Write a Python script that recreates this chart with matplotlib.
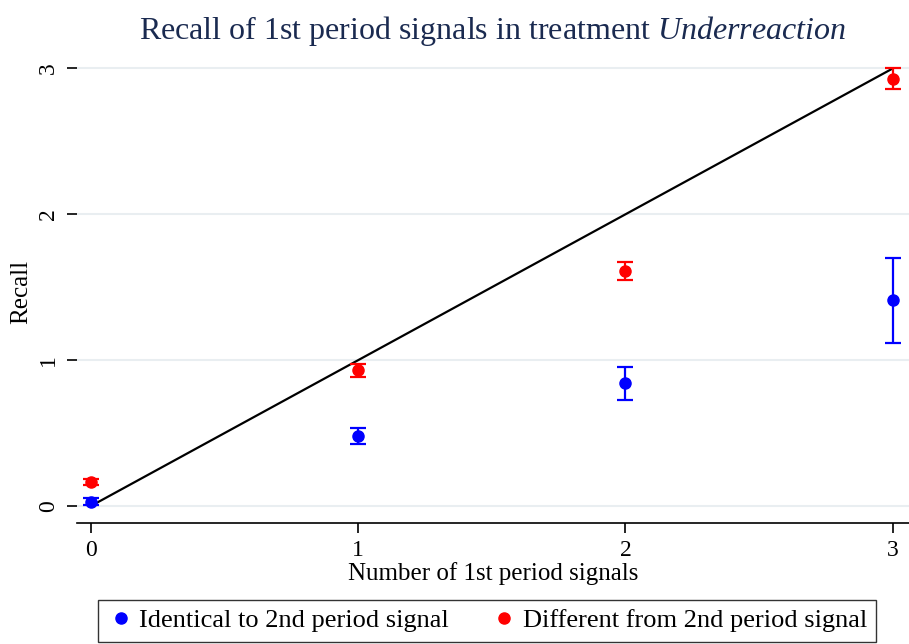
import matplotlib
matplotlib.use("Agg")
import matplotlib.pyplot as plt
import numpy as np

# signals
n_signals = [0, 1, 2, 3]

# recall for signals identical to 2nd period signal
identical_mean = [0.03, 0.48, 0.84, 1.41]
identical_err = [0.025, 0.055, 0.115, 0.29]

# recall for signals different from 2nd period signal
different_mean = [0.165, 0.93, 1.61, 2.93]
different_err = [0.02, 0.045, 0.06, 0.07]

plt.rcParams["font.family"] = ["Liberation Serif", "DejaVu Serif"]
plt.rcParams["mathtext.fontset"] = "custom"
plt.rcParams["mathtext.rm"] = "Liberation Serif"
plt.rcParams["mathtext.it"] = "Liberation Serif:italic"

fig = plt.figure(figsize=(9.09, 6.44), dpi=100)
ax = fig.add_axes([0.0847, 0.188, 0.9153, 0.717])

# grid
for yv in [0, 1, 2, 3]:
    ax.axhline(yv, color="#e9eef1", linewidth=1.5, zorder=0)

# 45 degree line
ax.plot([0, 3], [0, 3], color="black", linewidth=1.6, zorder=2)

ax.errorbar(n_signals, identical_mean, yerr=identical_err, fmt="o", color="blue",
            markersize=8, elinewidth=1.6, capsize=6, capthick=1.6, zorder=3,
            label="Identical to 2nd period signal")
ax.errorbar(n_signals, different_mean, yerr=different_err, fmt="o", color="red",
            markersize=8, elinewidth=1.6, capsize=6, capthick=1.6, zorder=3,
            label="Different from 2nd period signal")

ax.set_xlim(-0.052, 3.061)
ax.set_ylim(-0.116, 3.05)
ax.set_xticks([0, 1, 2, 3])
ax.set_yticks([0, 1, 2, 3])
ax.tick_params(axis="both", labelsize=17, length=7, width=1.2)
ax.tick_params(axis="y", pad=6)
ax.tick_params(axis="x", pad=5)
for lbl in ax.get_yticklabels():
    lbl.set_rotation(90)
    lbl.set_va("center")

for side in ["top", "right", "left"]:
    ax.spines[side].set_visible(False)
ax.spines["bottom"].set_linewidth(1.2)

ax.set_xlabel("Number of 1st period signals", fontsize=18, labelpad=1)
ax.set_ylabel("Recall", fontsize=18, labelpad=4)
ax.set_title("Recall of 1st period signals in treatment $\\mathit{Underreaction}$",
             fontsize=23, color="#1a2a50", pad=16)

handles = [
    plt.Line2D([], [], marker="o", linestyle="", color="blue", markersize=8),
    plt.Line2D([], [], marker="o", linestyle="", color="red", markersize=8),
]
leg = fig.legend(handles, ["Identical to 2nd period signal", "Different from 2nd period signal"],
                 loc="upper center", bbox_to_anchor=(0.536, 0.069), ncol=2, fontsize=19,
                 frameon=True, fancybox=False, edgecolor="black", handletextpad=0.2,
                 columnspacing=1.6, handlelength=1.0, borderpad=0.35, borderaxespad=0)
leg.get_frame().set_linewidth(1.0)

fig.savefig("out.png", dpi=100)
